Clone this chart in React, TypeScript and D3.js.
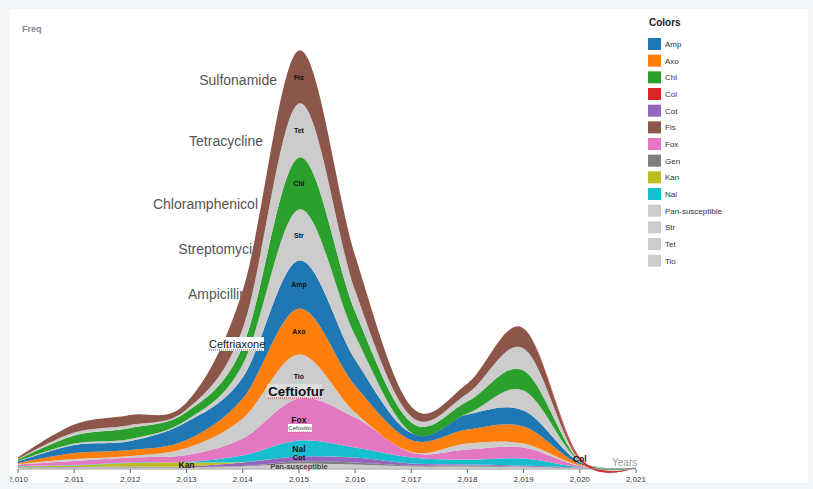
import React from 'react';
import * as d3 from 'd3';

// ---------- data ----------
const years = [2010, 2011, 2012, 2013, 2014, 2015, 2016, 2017, 2018, 2019, 2020, 2021];

// stacked from bottom to top
const seriesKeys = ['Pan-susceptible', 'Gen', 'Cot', 'Kan', 'Nal', 'Fox', 'Tio', 'Axo', 'Amp', 'Str', 'Chl', 'Tet', 'Fis', 'Col'];

const panValues = [0.5, 1, 1, 1, 2, 5, 4, 2, 2, 1.5, 0.5, 0];
const genValues = [0, 0, 0.5, 0.5, 0.5, 2, 2, 1, 1, 0.5, 0, 0];
const cotValues = [0.5, 0.5, 0.5, 0.5, 3.5, 5, 5, 2, 1, 1, 0.5, 0];
const kanValues = [1, 1.5, 3.5, 4, 0.5, 0, 0, 0, 0, 0, 0, 0];
const nalValues = [0.5, 0.5, 0.5, 0.5, 6.5, 16, 10, 6, 5, 7, 0.5, 0];
const foxValues = [1.5, 4, 5, 7, 17, 42, 30, 5, 10, 11, 1, 0];
const tioValues = [0.5, 2, 1.5, 7, 20, 44, 5, 0.5, 6, 4, 0.5, 0];
const axoValues = [1, 6, 6, 8, 20, 46, 27, 12, 14, 17, 1.5, 0];
const ampValues = [1.5, 8, 9, 18, 21, 48, 26, 7, 15, 16, 2, 1];
const strValues = [0.5, 1.5, 2, 2, 13, 51, 24, 0.5, 1, 20, 0.5, 0];
const chlValues = [1.5, 8, 11, 8, 18, 52, 24, 10, 12, 20, 0.5, 0];
const tetValues = [0.5, 3, 3, 2.5, 18, 54, 21, 6, 8, 22, 0.5, 0];
const fisValues = [1.5, 8, 10, 7, 38, 53, 35, 10, 10, 20, 0.5, 0];
const colValues = [0, 0, 0, 0, 0, 0, 0, 0, 0, 0, 2.5, 0];

const seriesValues = [panValues, genValues, cotValues, kanValues, nalValues, foxValues, tioValues,
  axoValues, ampValues, strValues, chlValues, tetValues, fisValues, colValues];

const legendKeys = ['Amp', 'Axo', 'Chl', 'Col', 'Cot', 'Fis', 'Fox', 'Gen', 'Kan', 'Nal', 'Pan-susceptible', 'Str', 'Tet', 'Tio'];
const legendColors = ['#1f77b4', '#ff7f0e', '#2ca02c', '#d62728', '#9467bd', '#8c564b', '#e377c2', '#7f7f7f',
  '#bcbd22', '#17becf', '#cccccc', '#cccccc', '#cccccc', '#cccccc'];

// class annotations (text + placement)
const classNames = ['Sulfonamide', 'Tetracycline', 'Chloramphenicol', 'Streptomycin', 'Ampicillin'];
const classX = [277, 263, 258, 260, 247];
const classY = [85, 146, 209, 254, 299];

// ---------- layout ----------
const W = 813;
const H = 489;
const FONT = '"Liberation Sans", Arial, Helvetica, sans-serif';

export default function App() {
  const x = d3.scaleLinear().domain([2010, 2021]).range([18, 636]);
  const y = d3.scaleLinear().domain([0, 420]).range([468.5, 48.5]);
  const color = d3.scaleOrdinal<string, string>().domain(legendKeys).range(legendColors);

  const rows = years.map((yr, i) => {
    const r: any = { year: yr };
    seriesKeys.forEach((k, j) => { r[k] = seriesValues[j][i]; });
    return r;
  });
  const stacked = d3.stack<any>().keys(seriesKeys)(rows);
  const area = d3.area<any>()
    .x((d) => x(d.data.year))
    .y0((d) => y(d[0]))
    .y1((d) => y(d[1]))
    .curve(d3.curveCardinal);

  const bigLabel = new Set(['Fox', 'Nal', 'Cot', 'Kan', 'Col', 'Pan-susceptible']);
  const seriesLabels = stacked.map((s, j) => {
    const vals = seriesValues[j];
    const mx = d3.max(vals) as number;
    const idx = vals.indexOf(mx);
    const d = s[idx];
    return { key: s.key, show: mx > 2.2, x: x(years[idx]), y: y((d[0] + d[1]) / 2) };
  });

  const ticks = x.ticks(12);
  const fmt = d3.format(',');

  return (
    <svg width={W} height={H} style={{ position: 'absolute', left: 0, top: 0, fontFamily: FONT }}>
      <rect x={0} y={0} width={W} height={H} fill="#f3f6f9" />
      <rect x={10} y={9} width={798} height={474} fill="#ffffff" />
      <svg x={10} y={9} width={798} height={474} overflow="hidden">
        <g transform="translate(-10,-9)">
          <text x={22} y={32} fontSize={9} fontWeight="bold" fill="#888">Freq</text>

          {classNames.map((n, i) => (
            <text key={n} x={classX[i]} y={classY[i]} textAnchor="end" fontSize={14} fill="#555">{n}</text>
          ))}

          {stacked.map((s) => (
            <path key={s.key} d={area(s) || ''} fill={color(s.key)} />
          ))}

          {/* axis */}
          <line x1={x(2010)} x2={x(2021)} y1={469} y2={469} stroke="#999" strokeWidth={1} />
          {ticks.map((t) => (
            <g key={t} transform={`translate(${x(t)},469)`}>
              <line y1={0} y2={4} stroke="#666" />
              <text y={13} textAnchor="middle" fontSize={8} fill="#333">{fmt(t)}</text>
            </g>
          ))}
          <text x={612} y={466} fontSize={10} fill="#999">Years</text>

          {/* series labels */}
          {seriesLabels.filter((l) => l.show).map((l) => (
            <text key={l.key} x={l.x} y={l.key === 'Cot' ? l.y - 1.5 : l.y} textAnchor="middle" dominantBaseline="central"
              fontSize={l.key === 'Cot' || l.key === 'Pan-susceptible' ? 7.5 : bigLabel.has(l.key) ? 8.5 : 7}
              fontWeight="bold"
              fill={l.key === 'Pan-susceptible' ? '#444' : '#111'}>{l.key}</text>
          ))}

          {/* drug annotations */}
          <rect x={207} y={337} width={57} height={14} fill="#fff" />
          <text x={209} y={347.5} fontSize={11} fill="#111">Ceftriaxone</text>
          <line x1={209} x2={262} y1={350} y2={350} stroke="#e03030" strokeWidth={1} strokeDasharray="1,1" />

          <rect x={267} y={384} width={55} height={14} fill="#fff" fillOpacity={0.35} />
          <text x={268} y={395.5} fontSize={13.5} fontWeight="bold" fill="#111">Ceftiofur</text>
          <line x1={268} x2={321} y1={398} y2={398} stroke="#e03030" strokeWidth={1} strokeDasharray="1,1" />

          <rect x={288} y={424} width={24} height={8} fill="#fff" />
          <text x={300} y={430} textAnchor="middle" fontSize={6} fill="#333">Cefoxitin</text>
          <line x1={289} x2={311} y1={432} y2={432} stroke="#e03030" strokeWidth={0.8} strokeDasharray="1,1" />
        </g>
      </svg>

      {/* legend */}
      <text x={649} y={26} fontSize={10} fontWeight="bold" fill="#222">Colors</text>
      {legendKeys.map((k, i) => (
        <g key={k} transform={`translate(648,${38 + i * 16.67})`}>
          <rect width={13} height={12} fill={color(k)} />
          <text x={17} y={9} fontSize={8} fill="#333">{k}</text>
        </g>
      ))}
    </svg>
  );
}
